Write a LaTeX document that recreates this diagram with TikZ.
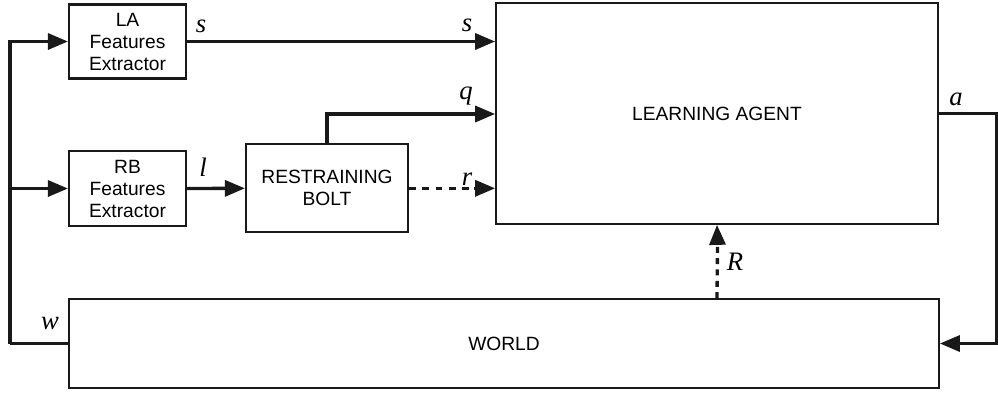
\documentclass[tikz,border=0pt]{standalone}
\usepackage{fontspec}
\setmainfont{Liberation Serif}
\setsansfont{Liberation Sans}
\usetikzlibrary{arrows.meta}
\tikzset{
  box/.style={draw=black!90, line width=1.6pt, fill=white, inner sep=0pt, align=center,
    font=\sffamily\fontsize{14.4}{16.5}\selectfont, anchor=center},
  bigbox/.style={box, line width=1.3pt},
  conn/.style={line width=2.5pt, black!90, -{Triangle[length=15pt,width=12pt]}},
  plain/.style={line width=2.5pt, black!90},
  lbl/.style={font=\itshape\fontsize{20}{20}\selectfont, inner sep=0pt, anchor=center},
}
\begin{document}
\begin{tikzpicture}[x=0.75pt,y=-0.75pt]
\useasboundingbox (0,0) rectangle (998,396);
\node[box, minimum width=87.75pt, minimum height=55.5pt] (la) at (127.5,41.5) {LA\\Features\\Extractor};
\node[box, minimum width=87.75pt, minimum height=56.25pt] (rb) at (127.5,188.5) {RB\\Features\\Extractor};
\node[box, minimum width=121.5pt, minimum height=66pt] (bolt) at (327,188.3) {RESTRAINING\\BOLT};
\node[bigbox, minimum width=331.5pt, minimum height=165.75pt] (agent) at (717,113.5) {LEARNING AGENT};
\node[bigbox, minimum width=652.5pt, minimum height=66.75pt] (world) at (504,343.5) {WORLD};

\coordinate (lb) at (10,343.5);
\coordinate (rcorner) at (997,113.5);

% inputs from world
\draw[plain] (world.west) -- (lb);
\draw[conn] (lb) |- (la.west);
\draw[conn] (lb |- rb.west) -- (rb.west);
% s
\draw[conn] (la.east) -- (la.east -| agent.west);
% l
\draw[conn] (rb.east) -- (bolt.west);
% q
\draw[conn] (bolt.north) |- (agent.west |- 0,114);
% r
\draw[line width=2.5pt, black!90, dash pattern=on 5pt off 5pt] (bolt.east) -- (474,188.3);
\draw[conn] (474,188.3) -- (bolt.east -| agent.west);
% a
\draw[conn] (agent.east) -- (rcorner) |- (world.east);
% R
\coordinate (rbase) at (agent.south |- world.north);
\draw[line width=2.5pt, black!90, dash pattern=on 4.5pt off 4pt] (rbase) -- (717.5,245);
\draw[conn] (717.5,245) -- (agent.south);

\node[lbl] (ls1) at (201,26) {s};
\node[lbl] (ls2) at (467,25) {s};
\node[lbl] (lq) at (466,96) {q};
\node[lbl] (lr) at (467,179) {r};
\node[lbl] (ll) at (203,167) {l};
\node[lbl] (la2) at (956,99) {a};
\node[lbl] (lR) at (735,262) {R};
\node[lbl] (lw) at (50,324) {w};
\end{tikzpicture}
\end{document}
